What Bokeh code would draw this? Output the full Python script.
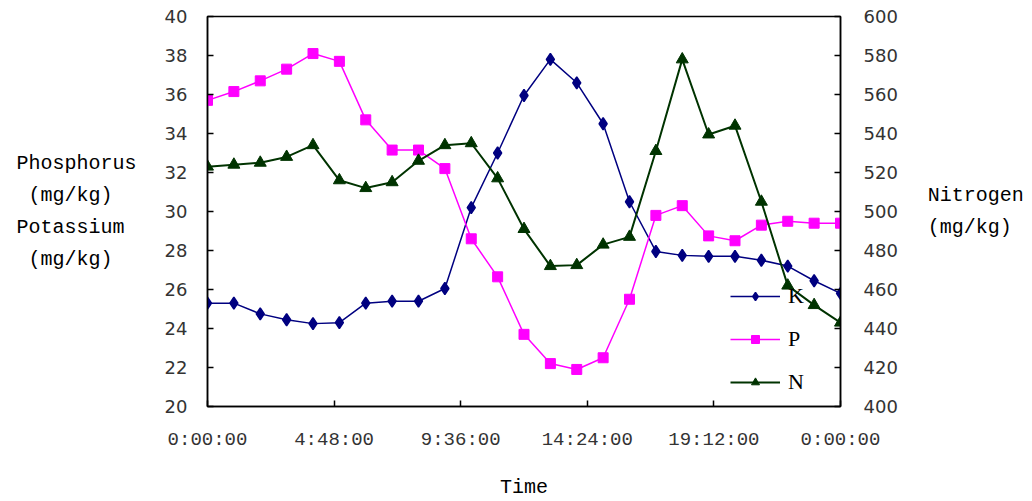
from bokeh.plotting import figure
from bokeh.models import Range1d, LinearAxis, FixedTicker, Legend, LegendItem
from bokeh.embed import file_html
from bokeh.resources import INLINE

# ---- data ----
hours = [0, 1, 2, 3, 4, 5, 6, 7, 8, 9, 10, 11, 12, 13, 14, 15, 16, 17, 18, 19, 20, 21, 22, 23, 24]
potassium = [25.3, 25.3, 24.75, 24.45, 24.25, 24.3, 25.3, 25.4, 25.4, 26.05, 30.2, 33.0, 35.95,
             37.8, 36.6, 34.5, 30.5, 27.95, 27.75, 27.7, 27.7, 27.5, 27.2, 26.45, 25.8]
phosphorus = [35.7, 36.15, 36.7, 37.3, 38.1, 37.7, 34.7, 33.15, 33.15, 32.2, 28.6, 26.65, 23.7,
              22.2, 21.9, 22.5, 25.5, 29.8, 30.3, 28.75, 28.5, 29.3, 29.5, 29.4, 29.4]
nitrogen = [523, 524, 525, 528, 534, 516, 512, 515, 526, 534, 535, 517, 491,
            472, 472.5, 483, 487, 531, 578, 539.5, 544, 505, 462, 452, 443]
time_ticks = [0, 4.8, 9.6, 14.4, 19.2, 24]
time_labels = ["0:00:00", "4:48:00", "9:36:00", "14:24:00", "19:12:00", "0:00:00"]
left_ticks = [20, 22, 24, 26, 28, 30, 32, 34, 36, 38, 40]
right_ticks = [400, 420, 440, 460, 480, 500, 520, 540, 560, 580, 600]
left_title = "Phosphorus\n(mg/kg)  \nPotassium \n(mg/kg)  "
right_title = "Nitrogen\n(mg/kg)"
x_title = "Time"

TITLE_FONT = "Liberation Mono"
TICK_FONT = "DejaVu Sans"

p = figure(width=1032, height=501, output_backend="svg", toolbar_location=None,
           x_range=Range1d(0, 24), y_range=Range1d(20, 40))
p.min_border_left = 207
p.min_border_right = 192
p.min_border_top = 16
p.min_border_bottom = 93
p.outline_line_color = "black"
p.outline_line_width = 1.5
p.xgrid.grid_line_color = None
p.ygrid.grid_line_color = None
p.background_fill_color = "white"
p.border_fill_color = "white"

p.extra_y_ranges = {"n": Range1d(400, 600)}

def style_axis(ax, standoff):
    ax.major_tick_in = 6
    ax.major_tick_out = 0
    ax.minor_tick_line_color = None
    ax.axis_line_width = 1.5
    ax.major_tick_line_width = 1.5
    ax.major_label_standoff = standoff
    ax.axis_label_text_font = TITLE_FONT
    ax.axis_label_text_font_size = "20px"
    ax.axis_label_text_font_style = "normal"
    ax.axis_label_text_color = "black"

# left axis
yax = p.yaxis[0]
yax.ticker = FixedTicker(ticks=left_ticks)
style_axis(yax, 20)
yax.major_label_text_font = TICK_FONT
yax.major_label_text_font_size = "18px"
yax.major_label_text_color = "#333333"
yax.axis_label = left_title
yax.axis_label_orientation = "horizontal"
yax.axis_label_standoff = 25
yax.axis_label_text_line_height = 1.4

# right axis
rax = LinearAxis(y_range_name="n", ticker=FixedTicker(ticks=right_ticks))
style_axis(rax, 23)
rax.major_label_text_font = TICK_FONT
rax.major_label_text_font_size = "18px"
rax.major_label_text_color = "#333333"
rax.axis_label = right_title
rax.axis_label_orientation = "horizontal"
rax.axis_label_standoff = 27
rax.axis_label_text_line_height = 1.4
p.add_layout(rax, "right")

# x axis
xax = p.xaxis[0]
xax.ticker = FixedTicker(ticks=time_ticks)
xax.major_label_overrides = {t: l for t, l in zip(time_ticks, time_labels)}
style_axis(xax, 22)
xax.major_label_text_font = TITLE_FONT
xax.major_label_text_font_size = "19px"
xax.major_label_text_color = "#333333"
xax.axis_label = x_title
xax.axis_label_standoff = 22

# series
K_COL = "#000080"
P_COL = "#FF00FF"
N_COL = "#003300"

kl = p.line(hours, potassium, line_color=K_COL, line_width=1.5)
km = p.scatter(hours, potassium, marker="diamond", size=12,
               fill_color=K_COL, line_color=K_COL, line_width=1.5)
pl = p.line(hours, phosphorus, line_color=P_COL, line_width=1.5)
pm = p.scatter(hours, phosphorus, marker="square", size=10,
               fill_color=P_COL, line_color=P_COL)
nl = p.line(hours, nitrogen, line_color=N_COL, line_width=2, y_range_name="n")
nm = p.scatter(hours, nitrogen, marker="triangle", size=12,
               fill_color=N_COL, line_color=N_COL, y_range_name="n")

legend = Legend(items=[LegendItem(label="K", renderers=[kl, km]),
                       LegendItem(label="P", renderers=[pl, pm]),
                       LegendItem(label="N", renderers=[nl, nm])],
                location=(523, 11))
legend.background_fill_alpha = 0
legend.border_line_color = None
legend.padding = 0
legend.margin = 0
legend.spacing = 17
legend.glyph_width = 50
legend.glyph_height = 20
legend.label_height = 20
legend.label_standoff = 8
legend.label_text_font = "Liberation Serif"
legend.label_text_font_size = "22px"
legend.label_text_color = "black"
p.add_layout(legend, "center")

open("out.html", "w").write(file_html(p, INLINE))
